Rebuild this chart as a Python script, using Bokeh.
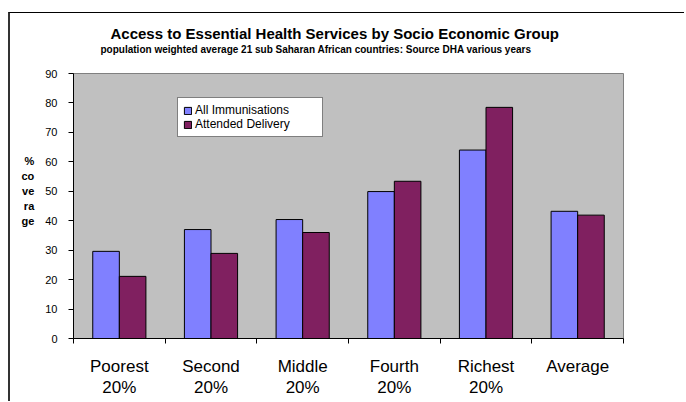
from bokeh.plotting import figure
from bokeh.models import (ColumnDataSource, FixedTicker, Legend, LegendItem, Range1d, Title)
from bokeh.embed import file_html
from bokeh.resources import INLINE

# ---- data ----
groups = ["Poorest\n20%", "Second\n20%", "Middle\n20%", "Fourth\n20%", "Richest\n20%", "Average"]
immunisations = [29.6, 37.0, 40.4, 49.9, 64.0, 43.2]
delivery = [21.1, 28.9, 36.0, 53.4, 78.5, 41.9]
y_ticks = [0, 10, 20, 30, 40, 50, 60, 70, 80, 90]
series_names = ["All Immunisations", "Attended Delivery"]
title_text = "Access to Essential Health Services by Socio Economic Group"
subtitle_text = "population weighted average 21 sub Saharan African countries: Source DHA various years"
ylabel_text = "%\nco\nve\nra\nge"

W, H = 676, 389
pos = list(range(len(groups)))
BW = 0.29

src = ColumnDataSource(dict(
    x1=[p - BW / 2 for p in pos], x2=[p + BW / 2 for p in pos],
    imm=immunisations, dlv=delivery))

p = figure(width=W, height=H, output_backend="svg", toolbar_location=None, title=None,
           x_range=Range1d(-0.5, len(groups) - 0.5), y_range=Range1d(0, 90),
           min_border_left=63, min_border_right=63, min_border_top=60, min_border_bottom=64,
           background_fill_color="#C0C0C0", border_fill_color="white",
           outline_line_color="#808080", outline_line_width=1)
p.styles = {"border-top": "1px solid black", "border-left": "2px solid #333333",
            "margin-top": "12px", "margin-left": "8px"}
p.xgrid.visible = False
p.ygrid.visible = False

r1 = p.vbar(x="x1", top="imm", width=BW, source=src, fill_color="#8080FF",
            line_color="black", line_width=1)
r2 = p.vbar(x="x2", top="dlv", width=BW, source=src, fill_color="#802060",
            line_color="black", line_width=1)

# axes
xa = p.xaxis[0]
xa.ticker = FixedTicker(ticks=pos, minor_ticks=[i - 0.5 for i in range(len(groups) + 1)])
xa.major_label_overrides = {i: g for i, g in enumerate(groups)}
xa.major_tick_line_color = None
xa.minor_tick_out = 5
xa.minor_tick_in = 0
xa.minor_tick_line_color = "black"
xa.axis_line_color = "black"
xa.major_label_text_font = "Liberation Sans"
xa.major_label_text_font_size = "17px"
xa.major_label_text_line_height = 1.15
xa.major_label_text_color = "black"
xa.major_label_standoff = 12

ya = p.yaxis[0]
ya.ticker = FixedTicker(ticks=y_ticks)
ya.minor_tick_line_color = None
ya.major_tick_out = 5
ya.major_tick_in = 0
ya.major_tick_line_color = "black"
ya.axis_line_color = "black"
ya.major_label_text_font = "Liberation Sans"
ya.major_label_text_font_size = "11px"
ya.major_label_text_color = "black"
ya.major_label_standoff = 11
ya.axis_label = ylabel_text + "\n\n"
ya.axis_label_orientation = "horizontal"
ya.axis_label_text_font = "Liberation Sans"
ya.axis_label_text_font_style = "bold"
ya.axis_label_text_font_size = "11px"
ya.axis_label_text_line_height = 1.25
ya.axis_label_text_color = "black"
ya.axis_label_standoff = 8

# titles: a blank spacer panel next to the frame, then subtitle, then title
p.add_layout(Title(text=" ", standoff=16, text_font_size="1px"), "above")
p.add_layout(Title(text=subtitle_text, align="left", offset=27, standoff=0,
                   text_font="Liberation Sans", text_font_style="bold",
                   text_font_size="10px", text_color="black"), "above")
p.add_layout(Title(text=title_text, align="left", offset=37, standoff=0,
                   text_font="Liberation Sans", text_font_style="bold",
                   text_font_size="15px", text_color="black"), "above")

legend = Legend(items=[LegendItem(label=series_names[0], renderers=[r1]),
                       LegendItem(label=series_names[1], renderers=[r2])],
                location=(104, 201), padding=5, spacing=0, margin=0,
                glyph_width=9, glyph_height=9, label_height=13, label_width=122,
                label_standoff=3, label_text_font="Liberation Sans",
                label_text_font_size="12px", label_text_color="black",
                border_line_color="black", border_line_width=1,
                background_fill_color="white", background_fill_alpha=1)
p.add_layout(legend, "center")

open("out.html", "w").write(file_html(p, INLINE))
